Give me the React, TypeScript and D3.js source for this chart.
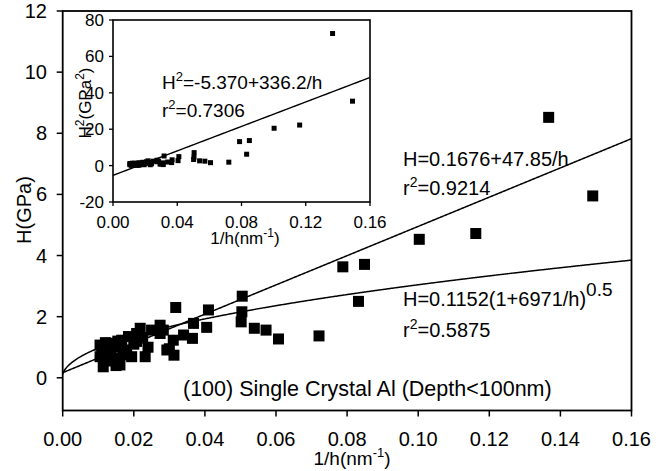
import React from "react";
import * as d3 from "d3";

// 1/h (nm^-1) and hardness H (GPa) of each indent
const invDepth = [
  0.0105, 0.0105, 0.011, 0.0114, 0.012, 0.0125, 0.0133, 0.0135, 0.0142, 0.015,
  0.015, 0.0155, 0.0161, 0.0166, 0.017, 0.018, 0.0185, 0.0194, 0.02, 0.0208,
  0.0208, 0.0218, 0.0225, 0.0232, 0.024, 0.025, 0.0274, 0.0274, 0.0283, 0.0293,
  0.03, 0.0311, 0.0313, 0.0318, 0.034, 0.0365, 0.0368, 0.0405, 0.041, 0.0502,
  0.0504, 0.0505, 0.0539, 0.0572, 0.0607, 0.0721, 0.0788, 0.0832, 0.0849, 0.1003,
  0.1162, 0.1367, 0.1491,
];
const hardness = [
  1.07, 0.69, 0.85, 0.36, 1.15, 0.55, 1.13, 0.8, 0.63, 0.4,
  1.0, 1.2, 0.42, 1.23, 0.75, 0.91, 1.35, 0.69, 1.1, 1.45,
  1.19, 1.62, 1.3, 0.69, 1.0, 1.56, 1.72, 1.45, 1.56, 0.91,
  0.95, 1.23, 0.74, 2.3, 1.4, 1.29, 1.78, 1.65, 2.22, 1.83,
  2.16, 2.67, 1.62, 1.56, 1.27, 1.37, 3.63, 2.5, 3.71, 4.53,
  4.72, 8.52, 5.95,
];
// inset: H^2 (GPa^2) of the same indents
const hardnessSq = [
  1.14, 0.48, 0.72, 0.13, 1.32, 0.3, 1.28, 0.64, 0.4, 0.16,
  1.0, 1.44, 0.18, 1.51, 0.56, 0.83, 1.82, 0.48, 1.21, 2.1,
  1.42, 2.62, 1.69, 0.48, 1.0, 2.43, 2.96, 2.1, 2.43, 0.83,
  0.9, 1.51, 0.55, 5.29, 1.96, 1.66, 3.17, 2.72, 4.93, 3.35,
  4.67, 7.13, 2.62, 2.43, 1.61, 1.88, 13.18, 6.25, 13.76, 20.52,
  22.28, 72.59, 35.4,
];

const xTicks = [0, 0.02, 0.04, 0.06, 0.08, 0.1, 0.12, 0.14, 0.16];
const yTicks = [0, 2, 4, 6, 8, 10, 12];
const insetXTicks = [0, 0.04, 0.08, 0.12, 0.16];
const insetYTicks = [-20, 0, 20, 40, 60, 80];

// fit coefficients printed on the chart
const linearFit = [0.1676, 47.85]; // H = a + b/h
const powerFit = [0.1152, 6971]; // H = a(1 + b/h)^0.5
const insetFit = [-5.37, 336.2]; // H^2 = a + b/h

const FONT = "'Liberation Sans', Arial, Helvetica, sans-serif";

export default function App() {
  const x = d3.scaleLinear().domain([0, 0.16]).range([62.7, 631.5]);
  const y = d3.scaleLinear().domain([-1.07, 12]).range([410.5, 11]);
  const ix = d3.scaleLinear().domain([0, 0.16]).range([113, 370]);
  const iy = d3.scaleLinear().domain([-20, 80]).range([202, 20]);

  // sample positions along the fitted curves
  const fitX = d3.range(0, 0.16001, 0.0002);
  const linLine = d3
    .line<number>()
    .x((d) => x(d))
    .y((d) => y(linearFit[0] + linearFit[1] * d));
  const powLine = d3
    .line<number>()
    .x((d) => x(d))
    .y((d) => y(powerFit[0] * Math.sqrt(1 + powerFit[1] * d)));
  const insetLine = d3
    .line<number>()
    .x((d) => ix(d))
    .y((d) => iy(insetFit[0] + insetFit[1] * d));

  const fmt2 = d3.format(".2f");
  const sq = 11;
  const isq = 5;

  return (
    <svg
      width={665}
      height={471}
      style={{ position: "absolute", left: 0, top: 0, background: "#fff" }}
      fontFamily={FONT}
    >
      <rect width={665} height={471} fill="#fff" />

      {/* main plot */}
      <g>
        {invDepth.map((d, i) => (
          <rect
            key={i}
            x={x(d) - sq / 2}
            y={y(hardness[i]) - sq / 2}
            width={sq}
            height={sq}
            fill="#000"
          />
        ))}
        <path d={linLine(fitX) || ""} fill="none" stroke="#000" strokeWidth={1.5} />
        <path d={powLine(fitX) || ""} fill="none" stroke="#000" strokeWidth={1.5} />
        <rect
          x={x(0)}
          y={y(12)}
          width={x(0.16) - x(0)}
          height={y(-1.07) - y(12)}
          fill="none"
          stroke="#000"
          strokeWidth={1.8}
        />
        {xTicks.map((t) => (
          <g key={t}>
            <line x1={x(t)} x2={x(t)} y1={y(-1.07)} y2={y(-1.07) + 6} stroke="#000" strokeWidth={1.5} />
            <text x={x(t)} y={446} fontSize={20} textAnchor="middle">
              {fmt2(t)}
            </text>
          </g>
        ))}
        {yTicks.map((t) => (
          <g key={t}>
            <line x1={x(0) - 6} x2={x(0)} y1={y(t)} y2={y(t)} stroke="#000" strokeWidth={1.5} />
            <text x={47} y={y(t) + 7} fontSize={20} textAnchor="end">
              {t}
            </text>
          </g>
        ))}
        <text transform="translate(31,210) rotate(-90)" fontSize={20} textAnchor="middle">
          H(GPa)
        </text>
        <text x={352} y={465} fontSize={19} textAnchor="middle">
          1/h(nm
          <tspan dy={-8} fontSize={13}>
            -1
          </tspan>
          <tspan dy={8}>)</tspan>
        </text>

        <text x={403} y={166} fontSize={20}>
          H=0.1676+47.85/h
        </text>
        <text x={403} y={195} fontSize={20}>
          r<tspan dy={-8} fontSize={14}>2</tspan>
          <tspan dy={8}>=0.9214</tspan>
        </text>
        <text x={403} y={306} fontSize={20}>
          H=0.1152(1+6971/h)
          <tspan dy={-10} fontSize={19}>
            0.5
          </tspan>
        </text>
        <text x={403} y={337} fontSize={20}>
          r<tspan dy={-8} fontSize={14}>2</tspan>
          <tspan dy={8}>=0.5875</tspan>
        </text>
        <text x={183} y={396} fontSize={21.5}>
          (100) Single Crystal Al (Depth&lt;100nm)
        </text>
      </g>

      {/* inset */}
      <g>
        <rect
          x={ix(0)}
          y={iy(80)}
          width={ix(0.16) - ix(0)}
          height={iy(-20) - iy(80)}
          fill="#fff"
          stroke="#000"
          strokeWidth={1.6}
        />
        {invDepth.map((d, i) => (
          <rect
            key={i}
            x={ix(d) - isq / 2}
            y={iy(hardnessSq[i]) - isq / 2}
            width={isq}
            height={isq}
            fill="#000"
          />
        ))}
        <path d={insetLine(fitX) || ""} fill="none" stroke="#000" strokeWidth={1.4} />
        {insetXTicks.map((t) => (
          <g key={t}>
            <line x1={ix(t)} x2={ix(t)} y1={iy(-20)} y2={iy(-20) + 4} stroke="#000" strokeWidth={1.3} />
            <text x={ix(t)} y={228} fontSize={17} textAnchor="middle">
              {fmt2(t)}
            </text>
          </g>
        ))}
        {insetYTicks.map((t) => (
          <g key={t}>
            <line x1={ix(0) - 4} x2={ix(0)} y1={iy(t)} y2={iy(t)} stroke="#000" strokeWidth={1.3} />
            <text x={104} y={iy(t) + 6} fontSize={17} textAnchor="end">
              {t}
            </text>
          </g>
        ))}
        <text transform="translate(91,103) rotate(-90)" fontSize={17} textAnchor="middle">
          H<tspan dy={-7} fontSize={12}>2</tspan>
          <tspan dy={7}>(GPa</tspan>
          <tspan dy={-7} fontSize={12}>2</tspan>
          <tspan dy={7}>)</tspan>
        </text>
        <text x={245} y={244} fontSize={17} textAnchor="middle">
          1/h(nm
          <tspan dy={-7} fontSize={12}>
            -1
          </tspan>
          <tspan dy={7}>)</tspan>
        </text>
        <text x={162} y={89} fontSize={19}>
          H<tspan dy={-8} fontSize={13}>2</tspan>
          <tspan dy={8}>=-5.370+336.2/h</tspan>
        </text>
        <text x={162} y={117} fontSize={19}>
          r<tspan dy={-8} fontSize={13}>2</tspan>
          <tspan dy={8}>=0.7306</tspan>
        </text>
      </g>
    </svg>
  );
}
